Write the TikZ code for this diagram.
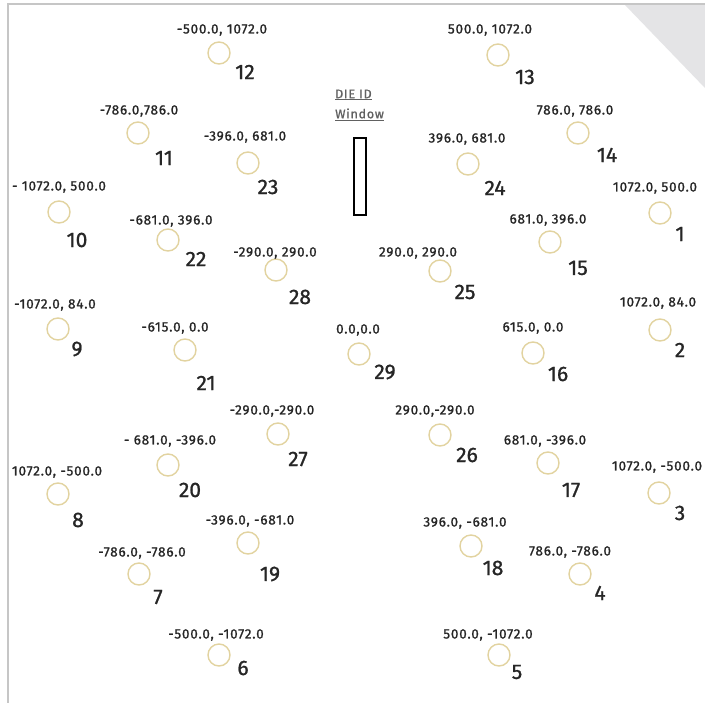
\documentclass[tikz,border=0pt]{standalone}
\usepackage{fontspec}
\setmainfont{Fira Sans}
\newfontfamily\labfont{Fira Sans}[FakeBold=1.1,LetterSpace=6]
\newfontfamily\numfont{Fira Sans}[FakeBold=1.0]
\usepackage{xcolor}
\usepackage{tikz}
\definecolor{ringgold}{HTML}{E2D3A0}
\definecolor{inkgray}{HTML}{262626}
\definecolor{framegray}{HTML}{C6C6C6}
\definecolor{cornergray}{HTML}{E4E4E6}

\begin{document}
\begin{tikzpicture}[x=1bp,y=-1bp,
  site/.style={circle,draw=ringgold,line width=1.4bp,minimum size=22bp,inner sep=0pt},
  xylab/.style={font=\labfont\fontsize{13.5bp}{15bp}\selectfont,text=inkgray,inner sep=0pt},
  numlab/.style={font=\numfont\fontsize{21bp}{24bp}\selectfont,text=inkgray,inner sep=0pt}]
\useasboundingbox (0,0) rectangle (705,703);
\fill[white] (0,0) rectangle (705,703);
% frame and corner
\fill[cornergray] (625,5) -- (705,5) -- (705,88) -- cycle;
\draw[framegray,line width=1.5bp] (8,703) -- (8,4) -- (705,4);
% die id window
\node[font=\labfont\fontsize{12.5bp}{20bp}\selectfont,text=black!62,align=left,anchor=west,inner sep=0pt] (dieid) at (335,105) {\underline{DIE ID}\\\underline{Window}};
\node[draw=black,line width=2bp,minimum width=12bp,minimum height=76bp,inner sep=0pt] (win) at (360,176.5) {};
% sites: id / circle / coordinate text / number
\foreach \id/\cx/\cy/\tx/\ty/\nx/\ny/\xy in {
  1/660/213/655/188/680/234/{1072.0, 500.0},
  2/660/330/658/303/680/350/{1072.0, 84.0},
  3/659/493/657/467/680/513/{1072.0, -500.0},
  4/580/574/570/552/600/593/{786.0, -786.0},
  5/499/655/488/635/517/672/{500.0, -1072.0},
  6/219/655/216/635/243/668/{-500.0, -1072.0},
  7/139/574/142/553/158/597/{-786.0, -786.0},
  8/58/494/57/472/78/520/{1072.0, -500.0},
  9/58/329/55/305/77/349/{-1072.0, 84.0},
  10/59/212/59/187/77/240/{- 1072.0, 500.0},
  11/138/133/139/111/164/158/{-786.0,786.0},
  12/219/53/222/30/245/72/{-500.0, 1072.0},
  13/498/55/490/30/525/77/{500.0, 1072.0},
  14/578/133/575/111/607/155/{786.0, 786.0},
  15/550/242/548/220/578/268/{681.0, 396.0},
  16/533/353/533/328/558/374/{615.0, 0.0},
  17/548/463/545/441/571/490/{681.0, -396.0},
  18/471/546/465/523/493/568/{396.0, -681.0},
  19/248/543/250/521/270/574/{-396.0, -681.0},
  20/168/465/170/441/190/490/{- 681.0, -396.0},
  21/185/350/175/328/206/383/{-615.0, 0.0},
  22/168/240/171/221/196/259/{-681.0, 396.0},
  23/248/163/245/137/268/187/{-396.0, 681.0},
  24/468/164/467/139/495/188/{396.0, 681.0},
  25/440/271/418/253/465/292/{290.0, 290.0},
  26/440/435/435/411/467/455/{290.0,-290.0},
  27/278/434/272/411/298/459/{-290.0,-290.0},
  28/276/270/275/253/300/297/{-290.0, 290.0},
  29/359/354/358/330/385/372/{0.0,0.0}}{
  \node[site] (c\id) at (\cx,\cy) {};
  \node[xylab] (t\id) at (\tx,\ty) {\xy};
  \node[numlab] (n\id) at (\nx,\ny) {\id};}
\end{tikzpicture}
\end{document}
